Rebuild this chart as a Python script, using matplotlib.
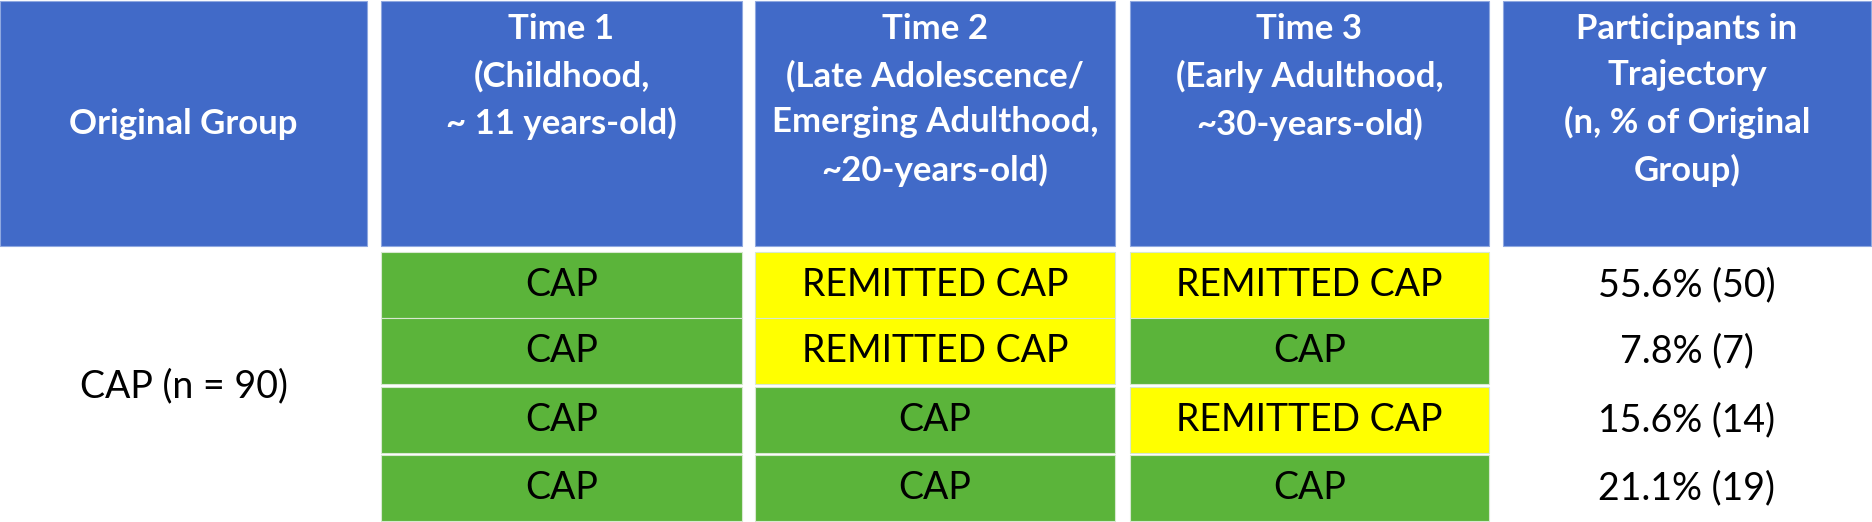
import matplotlib.pyplot as plt
from matplotlib.patches import Rectangle

# table content
headers = [
    "Original Group",
    "Time 1\n(Childhood,\n~ 11 years-old)",
    "Time 2\n(Late Adolescence/\nEmerging Adulthood,\n~20-years-old)",
    "Time 3\n(Early Adulthood,\n~30-years-old)",
    "Participants in\nTrajectory\n(n, % of Original\nGroup)",
]
group_label = "CAP (n = 90)"
time1 = ["CAP", "CAP", "CAP", "CAP"]
time2 = ["REMITTED CAP", "REMITTED CAP", "CAP", "CAP"]
time3 = ["REMITTED CAP", "CAP", "REMITTED CAP", "CAP"]
pct = [55.6, 7.8, 15.6, 21.1]
counts = [50, 7, 14, 19]

status_colors = {"CAP": "#5BB43A", "REMITTED CAP": "#FFFF00"}
blue = "#416AC8"

# layout (pixels)
col_x = [0, 381, 755, 1130, 1503]
col_w = [367, 361, 360, 359, 368]
head_top, head_h = 1, 245
row_y = [252, 318, 387, 455]
row_h = 66

plt.rcParams['font.family'] = ['Lato', 'DejaVu Sans']

fig = plt.figure(figsize=(18.72, 5.22), dpi=100)
ax = fig.add_axes([0, 0, 1, 1])
ax.set_xlim(0, 1872)
ax.set_ylim(522, 0)
ax.axis("off")

# header row
for i, h in enumerate(headers):
    ax.add_patch(Rectangle((col_x[i], head_top), col_w[i], head_h,
                           facecolor=blue, edgecolor="#8FA8E0", lw=0.8))
    cx = col_x[i] + col_w[i] / 2
    if i == 0:
        ax.text(cx, head_top + head_h / 2, h, ha="center", va="center",
                color="white", fontsize=25, fontweight="bold")
    else:
        ax.text(cx, 13, h, ha="center", va="top", color="white",
                fontsize=25, fontweight="bold", linespacing=1.55)

# body
body_top = row_y[0]
body_bot = row_y[-1] + row_h
ax.text(col_x[0] + col_w[0] / 2, (body_top + body_bot) / 2, group_label,
        ha="center", va="center", fontsize=27, color="black")

for j in range(len(time1)):
    y = row_y[j]
    for k, vals in enumerate([time1, time2, time3]):
        c = k + 1
        ax.add_patch(Rectangle((col_x[c], y), col_w[c], row_h,
                               facecolor=status_colors[vals[j]],
                               edgecolor="#D8E8D0", lw=0.8))
        ax.text(col_x[c] + col_w[c] / 2, y + row_h / 2, vals[j],
                ha="center", va="center", fontsize=27, color="black")
    ax.text(col_x[4] + col_w[4] / 2, y + row_h / 2,
            f"{pct[j]}% ({counts[j]})", ha="center", va="center",
            fontsize=27, color="black")

fig.savefig("out.png", dpi=100, facecolor="white")
